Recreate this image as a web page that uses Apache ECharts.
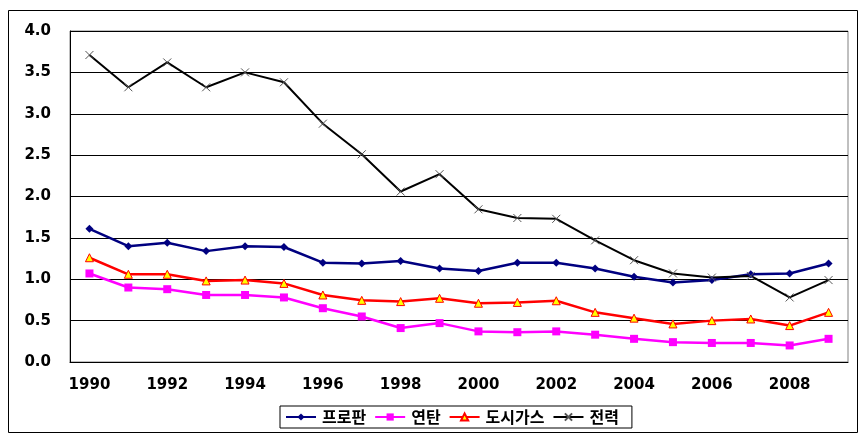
<!DOCTYPE html>
<html>
<head>
<meta charset="utf-8">
<script src="https://cdn.jsdelivr.net/npm/echarts@6/dist/echarts.min.js"></script>
<style>
html,body{margin:0;padding:0;background:#fff;}
#chart{width:867px;height:447px;}
</style>
</head>
<body>
<div id="chart"></div>
<script>
const years = ['1990','1991','1992','1993','1994','1995','1996','1997','1998','1999','2000','2001','2002','2003','2004','2005','2006','2007','2008','2009'];
const propane = [1.61,1.40,1.44,1.34,1.40,1.39,1.20,1.19,1.22,1.13,1.10,1.20,1.20,1.13,1.03,0.96,0.99,1.06,1.07,1.19];
const briquette = [1.07,0.90,0.88,0.81,0.81,0.78,0.65,0.55,0.41,0.47,0.37,0.36,0.37,0.33,0.28,0.24,0.23,0.23,0.20,0.28];
const cityGas = [1.26,1.06,1.06,0.98,0.99,0.95,0.81,0.745,0.73,0.77,0.71,0.72,0.74,0.60,0.53,0.46,0.50,0.52,0.44,0.60];
const electricity = [3.71,3.32,3.62,3.32,3.50,3.38,2.88,2.51,2.06,2.27,1.845,1.74,1.73,1.47,1.23,1.07,1.02,1.04,0.78,0.99];
const seriesNames = ['프로판','연탄','도시가스','전력'];

const font = '"DejaVu Sans", "Noto Sans CJK KR", sans-serif';
const chart = echarts.init(document.getElementById('chart'));
chart.setOption({
  animation: false,
  backgroundColor: '#fff',
  textStyle: { fontFamily: font, color: '#000' },
  graphic: [{
    type: 'rect', silent: true,
    shape: { x: 8.5, y: 10.5, width: 849, height: 422 },
    style: { fill: 'none', stroke: '#000', lineWidth: 1 }
  }],
  grid: { left: 70, right: 19, top: 31, bottom: 85, show: true, borderColor: '#808080', borderWidth: 1, containLabel: false },
  legend: {
    left: 280, top: 406,
    padding: [3, 13, 3, 5],
    borderColor: '#000', borderWidth: 1,
    itemWidth: 30, itemHeight: 9, itemGap: 8,
    textStyle: { fontFamily: '"Noto Sans CJK KR", sans-serif', fontSize: 16, fontWeight: 'bold', color: '#000', padding: [0,0,0,1] },
    data: seriesNames
  },
  xAxis: {
    type: 'category', data: years, boundaryGap: true,
    axisLine: { lineStyle: { color: '#000', width: 1 } },
    axisTick: { inside: true, length: 5, interval: 0, lineStyle: { color: '#000' } },
    axisLabel: { interval: 1, margin: 16, fontSize: 15, fontWeight: 'bold', color: '#000', fontFamily: font },
    splitLine: { show: false }
  },
  yAxis: {
    type: 'value', min: 0, max: 4, interval: 0.5,
    axisLine: { show: true, lineStyle: { color: '#000', width: 1 } },
    axisTick: { show: false },
    axisLabel: { margin: 19, fontSize: 15, fontWeight: 'bold', color: '#000', fontFamily: font, formatter: v => v.toFixed(1) },
    splitLine: { lineStyle: { color: '#000', width: 1 } }
  },
  series: [
    { name: seriesNames[0], type: 'line', data: propane, symbol: 'diamond', symbolSize: 8,
      lineStyle: { color: '#000080', width: 2.5 }, itemStyle: { color: '#000080' } },
    { name: seriesNames[1], type: 'line', data: briquette, symbol: 'rect', symbolSize: 8,
      lineStyle: { color: '#FF00FF', width: 2.5 }, itemStyle: { color: '#FF00FF' } },
    { name: seriesNames[2], type: 'line', data: cityGas, symbol: 'triangle', symbolSize: 8,
      lineStyle: { color: '#FF0000', width: 2.5 }, itemStyle: { color: '#FFFF00', borderColor: '#FF0000', borderWidth: 1 } },
    { name: seriesNames[3], type: 'line', data: electricity, symbol: 'path://M0,0L10,10M10,0L0,10', symbolSize: 8,
      lineStyle: { color: '#000', width: 2 }, itemStyle: { color: 'none', borderColor: '#555', borderWidth: 1 } }
  ]
});
</script>
</body>
</html>
